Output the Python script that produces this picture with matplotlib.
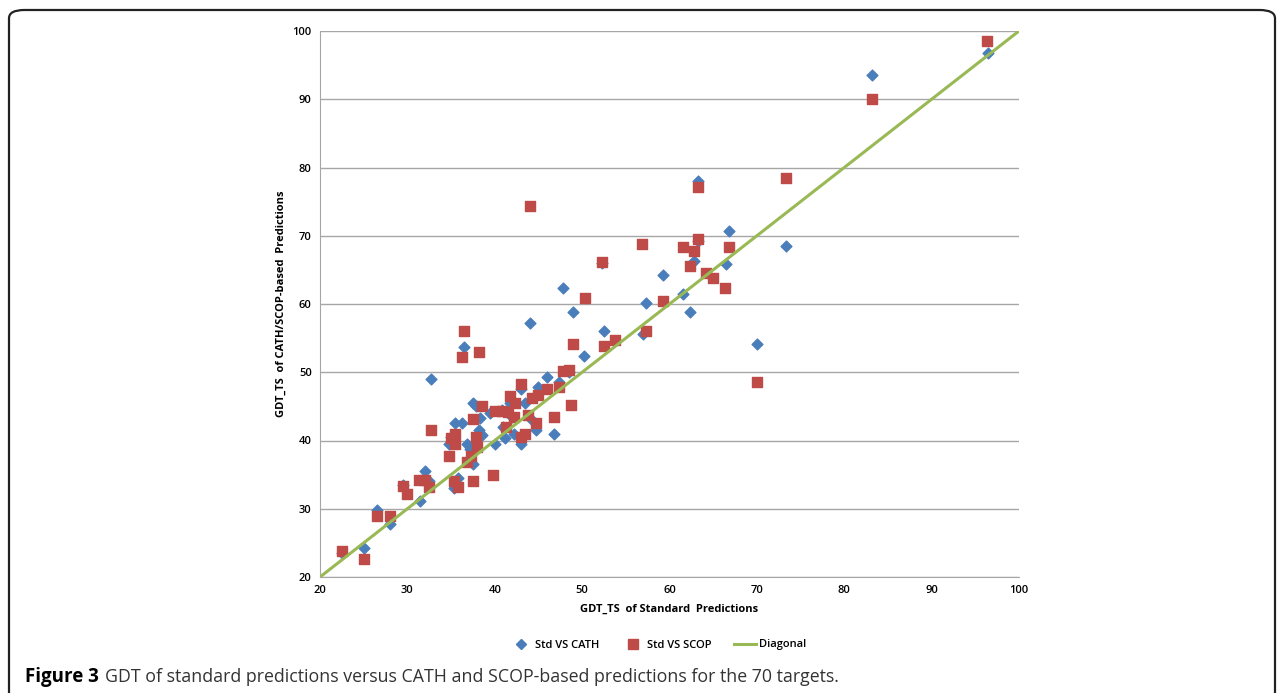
import matplotlib.pyplot as plt
from matplotlib.patches import FancyBboxPatch
from matplotlib.lines import Line2D

# Std VS CATH (x = standard GDT_TS, y = CATH-based GDT_TS)
cath_x = [22.5, 25.0, 26.5, 28.0, 29.5, 31.5, 32.0, 32.5, 32.7, 34.8, 35.0, 35.3, 35.5,
          35.8, 36.2, 36.5, 36.8, 37.2, 37.5, 37.5, 37.8, 38.2, 38.3, 38.5, 39.5, 40.0,
          40.8, 41.0, 41.2, 41.8, 42.0, 42.2, 43.0, 43.0, 43.5, 44.0, 44.3, 44.7, 45.0,
          46.0, 46.8, 47.3, 47.8, 48.5, 49.0, 50.2, 52.3, 52.5, 57.0, 57.3, 59.3, 61.5,
          62.3, 62.8, 63.3, 63.3, 66.5, 66.8, 70.0, 73.3, 83.2, 96.5]
cath_y = [23.5, 24.2, 29.8, 27.7, 33.5, 31.2, 35.5, 34.0, 49.0, 39.5, 40.5, 33.0, 42.5,
          34.5, 42.5, 53.7, 39.5, 38.8, 36.5, 45.5, 45.0, 41.5, 43.3, 40.8, 44.0, 39.5,
          44.5, 42.0, 40.3, 45.5, 43.5, 41.0, 47.5, 39.5, 45.5, 57.2, 43.0, 41.5, 47.8,
          49.3, 41.0, 48.5, 62.3, 50.0, 58.8, 52.4, 66.0, 56.1, 55.6, 60.1, 64.2, 61.5,
          58.8, 66.3, 78.0, 69.3, 65.8, 70.7, 54.2, 68.5, 93.5, 96.8]

# Std VS SCOP
scop_x = [22.5, 25.0, 26.5, 28.0, 29.5, 30.0, 31.3, 32.0, 32.5, 32.7, 34.8, 35.0, 35.3,
          35.5, 35.5, 35.8, 36.2, 36.5, 36.8, 37.3, 37.5, 37.5, 37.8, 38.0, 38.2, 38.5,
          39.8, 40.0, 40.8, 41.3, 41.5, 41.8, 42.2, 42.3, 43.0, 43.0, 43.5, 43.8, 44.0,
          44.3, 44.7, 45.0, 46.0, 46.8, 47.3, 47.8, 48.5, 48.7, 49.0, 50.3, 52.3, 52.5,
          53.8, 56.8, 57.3, 59.3, 61.5, 62.3, 62.8, 63.3, 63.3, 64.2, 65.0, 66.3, 66.8,
          70.0, 73.3, 83.2, 96.3]
scop_y = [23.8, 22.7, 29.0, 29.0, 33.3, 32.2, 34.2, 34.2, 33.2, 41.5, 37.7, 40.3, 34.0,
          39.5, 41.0, 33.2, 52.3, 56.0, 36.8, 37.8, 34.1, 43.1, 40.5, 39.0, 53.0, 45.0,
          35.0, 44.3, 44.3, 42.0, 44.2, 46.5, 43.5, 45.5, 48.3, 40.5, 41.0, 43.8, 74.3,
          46.3, 42.5, 46.7, 47.5, 43.5, 47.8, 50.2, 50.3, 45.2, 54.2, 60.9, 66.2, 53.9,
          54.7, 68.8, 56.0, 60.5, 68.3, 65.5, 67.8, 77.2, 69.5, 64.6, 63.8, 62.4, 68.4,
          48.5, 78.5, 90.1, 98.5]

diag = [20, 100]

plt.rcParams['font.family'] = ['Open Sans', 'DejaVu Sans']

fig = plt.figure(figsize=(12.81, 6.93), dpi=100)

# rounded frame around the figure panel
frame = FancyBboxPatch((9 / 1281, -0.2), 1266 / 1281, 1.2 - 10 / 693,
                       boxstyle="round,pad=0,rounding_size=0.012",
                       transform=fig.transFigure, fill=False,
                       edgecolor='#222222', linewidth=1.6)
fig.patches.append(frame)

ax = fig.add_axes([320 / 1281, 1 - 577 / 693, 699 / 1281, 546 / 693])

ax.scatter(cath_x, cath_y, marker='D', s=30, color='#4a7ebb', zorder=3)
ax.scatter(scop_x, scop_y, marker='s', s=50, color='#be4b48', zorder=4)
ax.plot(diag, diag, color='#98b954', linewidth=2.2, zorder=5)

ax.set_xlim(20, 100)
ax.set_ylim(20, 100)
ax.set_xticks(range(20, 101, 10))
ax.set_yticks(range(20, 101, 10))
ax.tick_params(length=0, labelsize=8, pad=6)
for lbl in ax.get_xticklabels() + ax.get_yticklabels():
    lbl.set_fontweight('semibold')
ax.grid(axis='y', color='#a6a6a6', linewidth=1)
ax.set_axisbelow(True)
for s in ['top', 'right']:
    ax.spines[s].set_visible(False)
for s in ['left', 'bottom']:
    ax.spines[s].set_color('#a6a6a6')

ax.set_xlabel('GDT_TS  of Standard  Predictions', fontsize=8, fontweight='bold', labelpad=5)
ax.set_ylabel('GDT_TS  of CATH/SCOP-based  Predictions', fontsize=8, fontweight='bold', labelpad=4)

handles = [Line2D([], [], marker='D', linestyle='none', color='#4a7ebb', markersize=5),
           Line2D([], [], marker='s', linestyle='none', color='#be4b48', markersize=7),
           Line2D([], [], color='#98b954', linewidth=2.2)]
fig.legend(handles, ['Std VS CATH', 'Std VS SCOP', 'Diagonal'],
           loc='center', bbox_to_anchor=(658 / 1281, 1 - 645 / 693), ncol=3,
           frameon=False, handlelength=2.0, handletextpad=0.3, columnspacing=2.0,
           prop={'weight': 'semibold', 'size': 8})

cap_y = 1 - 677 / 693
t1 = fig.text(25 / 1281, cap_y, 'Figure 3', fontsize=13.5, fontweight='bold', va='center')
fig.canvas.draw()
bb = t1.get_window_extent()
fig.text((bb.x1 + 6) / 1281, cap_y,
         'GDT of standard predictions versus CATH and SCOP-based predictions for the 70 targets.',
         fontsize=12.8, va='center', color='#333333')

fig.savefig('out.png', dpi=100)
